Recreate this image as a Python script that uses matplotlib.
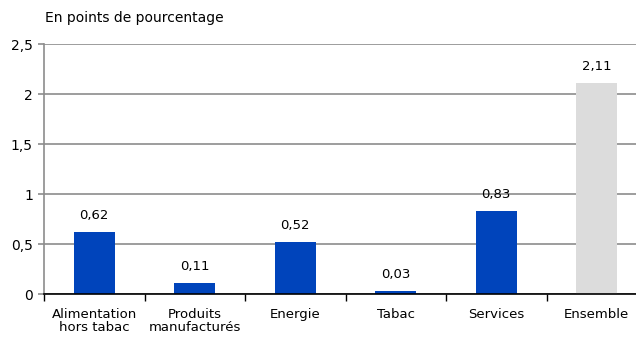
import matplotlib.pyplot as plt
from matplotlib.ticker import FixedLocator, FuncFormatter
import numpy as np

# Contributions à l'inflation par poste
categories = ["Alimentation\nhors tabac", "Produits\nmanufacturés", "Energie",
              "Tabac", "Services", "Ensemble"]
valeurs = [0.62, 0.11, 0.52, 0.03, 0.83, 2.11]
yticks = [0, 0.5, 1, 1.5, 2, 2.5]

bleu = "#0044BB"
gris = "#DCDCDC"
couleurs = [bleu] * 5 + [gris]

plt.rcParams['font.family'] = ['DejaVu Sans']
plt.rcParams['font.size'] = 9.5

fig = plt.figure(figsize=(6.36, 3.37), dpi=100)
# l'axe déborde à droite, comme sur le graphique d'origine
ax = fig.add_axes([44 / 636, 1 - 294 / 337, 603 / 636, 250 / 337])

x = np.arange(len(categories))
ax.bar(x, valeurs, width=0.41, color=couleurs, zorder=3)

for xi, v in zip(x, valeurs):
    ax.annotate(f"{v:.2f}".replace(".", ","), (xi, v), xytext=(0, 7),
                textcoords="offset points", ha="center", va="bottom", fontsize=9.5)

ax.set_xlim(-0.5, len(categories) - 0.5)
ax.set_ylim(0, 2.5)
ax.set_yticks(yticks)
ax.yaxis.set_major_formatter(FuncFormatter(lambda v, p: f"{v:g}".replace(".", ",")))
ax.grid(axis="y", color="#8C8C8C", linewidth=1.2, zorder=0)

# graduations de l'axe des catégories aux limites des groupes
ax.xaxis.set_major_locator(FixedLocator(np.arange(-0.5, len(categories), 1.0)))
ax.xaxis.set_major_formatter(FuncFormatter(lambda v, p: ""))
ax.xaxis.set_minor_locator(FixedLocator(x))
ax.set_xticklabels(categories, minor=True, linespacing=1.0)
ax.tick_params(axis="x", which="major", length=5, width=1, direction="out", color="black")
ax.tick_params(axis="x", which="minor", length=0, pad=10)
ax.tick_params(axis="y", length=4, width=1.2, color="#8C8C8C", pad=4, labelsize=10)

for s in ["top", "right"]:
    ax.spines[s].set_visible(False)
ax.spines["left"].set_color("#8C8C8C")
ax.spines["left"].set_linewidth(1.2)
ax.spines["bottom"].set_color("black")
ax.spines["bottom"].set_linewidth(1.2)
ax.spines["bottom"].set_zorder(4)

fig.text(45 / 636, 1 - 18 / 337, "En points de pourcentage", ha="left", va="center", fontsize=10)

fig.savefig("out.png", dpi=100)
